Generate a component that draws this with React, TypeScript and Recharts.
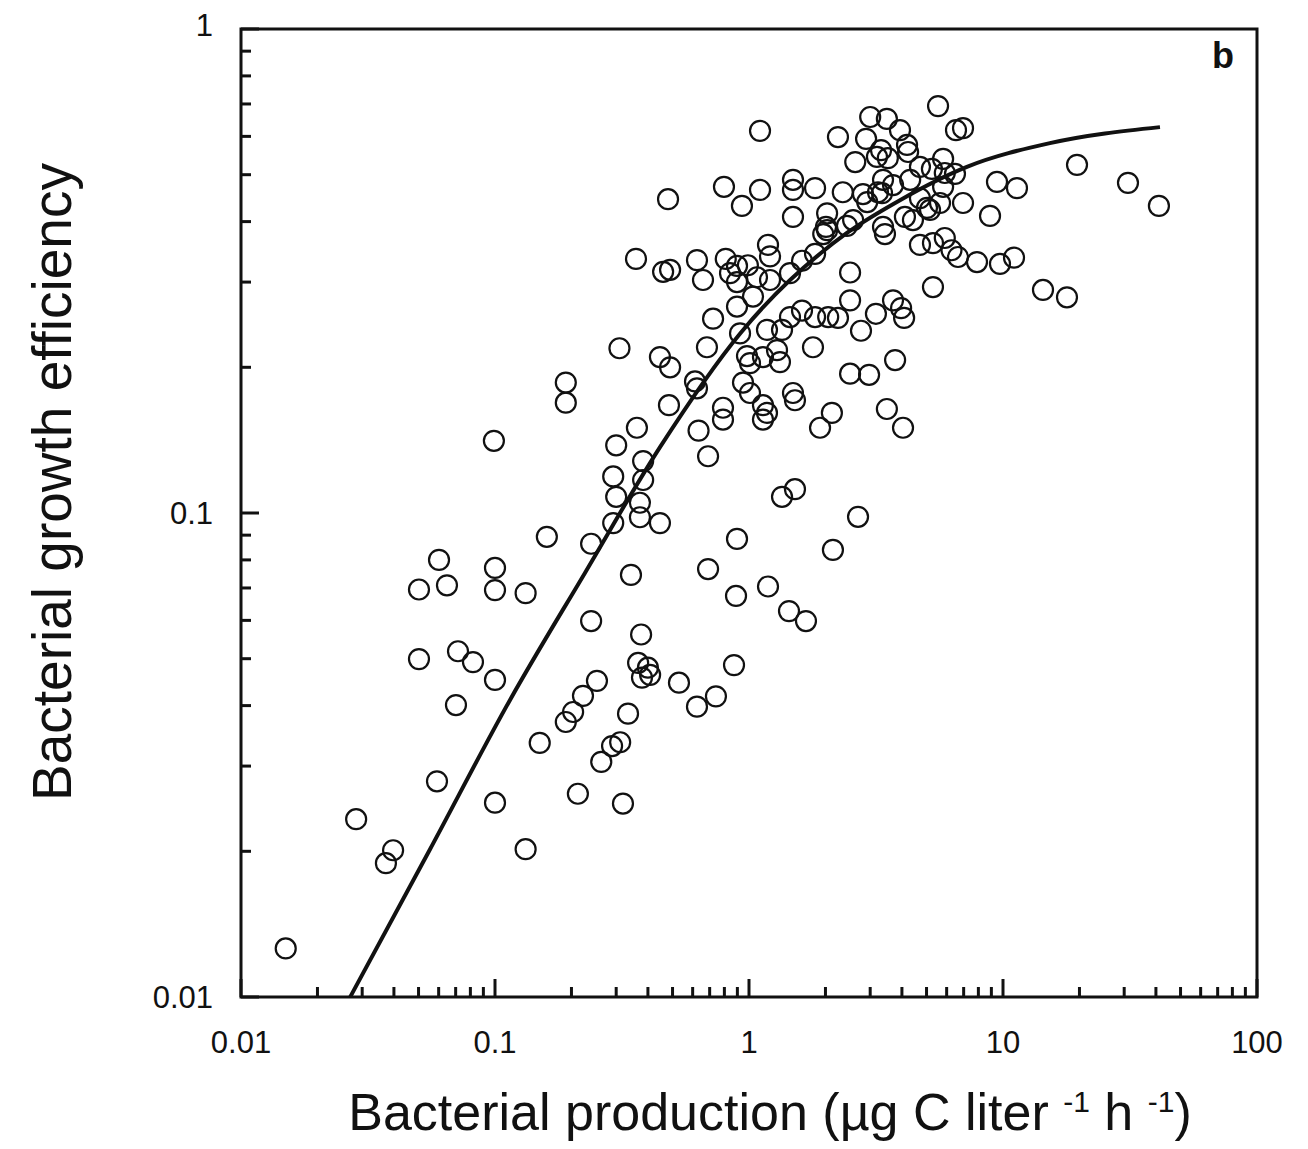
import { ComposedChart, Line, ReferenceArea, Scatter, XAxis, YAxis } from 'recharts';

// measured points: bacterial production (ug C l-1 h-1) and growth efficiency
const productionValues = [
  0.015, 0.0284, 0.0397, 0.0372, 0.0502, 0.0602, 0.0647, 0.0502, 0.0715, 0.0819,
  0.0702, 0.0591, 0.099, 0.1, 0.1, 0.1, 0.1, 0.132, 0.132, 0.16,
  0.15, 0.19, 0.19, 0.362, 0.3, 0.383, 0.383, 0.292, 0.3, 0.372,
  0.372, 0.292, 0.239, 0.446, 0.343, 0.239, 0.376, 0.366, 0.4, 0.379,
  0.408, 0.252, 0.222, 0.203, 0.19, 0.334, 0.311, 0.289, 0.262, 0.212,
  0.319, 0.53, 0.624, 0.741, 0.873, 0.69, 0.889, 1.188, 1.437, 1.676,
  2.14, 0.897, 1.349, 1.517, 2.687, 5.55, 1.105, 6.53, 6.96, 2.24,
  3.0, 3.49, 3.93, 4.19, 4.23, 2.89, 3.31, 2.62, 3.52, 5.81,
  5.25, 6.47, 9.47, 11.35, 19.56, 31.05, 41.1, 8.89, 6.96, 5.65,
  5.02, 4.71, 4.42, 4.11, 5.9, 5.3, 4.71, 6.27, 6.65, 7.9,
  9.73, 11.05, 14.37, 17.86, 3.37, 3.34, 2.81, 2.34, 3.37, 3.43,
  2.57, 2.43, 2.03, 2.01, 1.96, 1.82, 1.49, 1.49, 1.49, 1.105,
  0.938, 0.797, 0.48, 1.188, 1.21, 4.31, 3.69, 3.22, 2.92, 3.19,
  4.71, 5.9, 5.81, 5.16, 0.359, 0.459, 0.489, 0.624, 0.659, 0.81,
  0.897, 0.99, 0.897, 1.075, 1.21, 0.842, 1.037, 0.897, 1.45, 1.617,
  1.82, 2.03, 2.5, 2.5, 0.722, 0.922, 1.177, 1.45, 1.617, 1.82,
  2.05, 2.24, 0.683, 0.309, 0.446, 0.489, 1.009, 1.289, 1.324, 1.786,
  1.349, 0.613, 0.947, 1.009, 0.484, 0.79, 0.79, 1.135, 1.177, 1.135,
  1.49, 1.517, 2.5, 2.97, 3.76, 3.49, 2.12, 1.904, 4.04, 0.633,
  0.69, 3.69, 3.97, 4.08, 3.16, 2.76, 5.3, 0.982, 1.135, 0.624,
];

const efficiencyValues = [
  0.0126, 0.0233, 0.0201, 0.0189, 0.0695, 0.08, 0.0709, 0.0499, 0.0518, 0.0492,
  0.0401, 0.0279, 0.141, 0.077, 0.0693, 0.0452, 0.0252, 0.0683, 0.0202, 0.0893,
  0.0335, 0.186, 0.169, 0.15, 0.138, 0.128, 0.117, 0.119, 0.108, 0.105,
  0.098, 0.0953, 0.0864, 0.0953, 0.0745, 0.0598, 0.0561, 0.049, 0.0479, 0.0457,
  0.0463, 0.045, 0.0419, 0.0388, 0.037, 0.0385, 0.0336, 0.033, 0.0306, 0.0263,
  0.0251, 0.0446, 0.0398, 0.0418, 0.0485, 0.0766, 0.0674, 0.0705, 0.0627, 0.0598,
  0.0839, 0.0884, 0.108, 0.112, 0.0982, 0.693, 0.616, 0.618, 0.624, 0.598,
  0.658, 0.652, 0.618, 0.576, 0.557, 0.593, 0.562, 0.531, 0.541, 0.539,
  0.514, 0.502, 0.483, 0.469, 0.524, 0.481, 0.431, 0.411, 0.437, 0.437,
  0.427, 0.447, 0.403, 0.409, 0.37, 0.361, 0.358, 0.349, 0.338, 0.33,
  0.327, 0.337, 0.289, 0.279, 0.488, 0.458, 0.456, 0.46, 0.39, 0.377,
  0.403, 0.392, 0.416, 0.39, 0.377, 0.469, 0.488, 0.465, 0.409, 0.465,
  0.431, 0.472, 0.445, 0.358, 0.339, 0.488, 0.476, 0.46, 0.439, 0.544,
  0.519, 0.504, 0.472, 0.423, 0.335, 0.315, 0.318, 0.333, 0.303, 0.335,
  0.324, 0.325, 0.3, 0.307, 0.303, 0.313, 0.28, 0.267, 0.313, 0.332,
  0.343, 0.384, 0.314, 0.275, 0.252, 0.235, 0.239, 0.254, 0.262, 0.254,
  0.254, 0.253, 0.22, 0.219, 0.21, 0.2, 0.204, 0.217, 0.205, 0.22,
  0.239, 0.187, 0.186, 0.177, 0.167, 0.165, 0.156, 0.167, 0.161, 0.156,
  0.177, 0.171, 0.194, 0.193, 0.207, 0.164, 0.161, 0.15, 0.15, 0.148,
  0.131, 0.275, 0.265, 0.253, 0.258, 0.238, 0.293, 0.211, 0.21, 0.181,
];

// fitted curve
const curveProduction = [0.0269, 0.0555, 0.1146, 0.226, 0.447, 0.923, 2.43, 3.93, 7.21, 15.3, 41.5];
const curveEfficiency = [0.01, 0.0202, 0.0411, 0.0752, 0.137, 0.235, 0.379, 0.443, 0.519, 0.581, 0.627];

const xTicks = [
  0.01, 0.02, 0.03, 0.04, 0.05, 0.06, 0.07, 0.08, 0.09,
  0.1, 0.2, 0.3, 0.4, 0.5, 0.6, 0.7, 0.8, 0.9,
  1, 2, 3, 4, 5, 6, 7, 8, 9,
  10, 20, 30, 40, 50, 60, 70, 80, 90, 100,
];
const yTicks = [
  0.01, 0.02, 0.03, 0.04, 0.05, 0.06, 0.07, 0.08, 0.09,
  0.1, 0.2, 0.3, 0.4, 0.5, 0.6, 0.7, 0.8, 0.9, 1,
];
const majorTicks = [0.01, 0.1, 1, 10, 100];

const points = productionValues.map((bp, i) => ({ bp, bge: efficiencyValues[i] }));
const curve = curveProduction.map((bp, i) => ({ bp, bge: curveEfficiency[i] }));

const font = '"Liberation Sans", Arial, Helvetica, sans-serif';
const ink = '#111';

function XTick(props: any) {
  const { x, y, payload } = props;
  const major = majorTicks.includes(payload.value);
  return (
    <g>
      <line x1={x} x2={x} y1={y} y2={y - (major ? 18 : 10)} stroke={ink} strokeWidth={3} />
      {major && (
        <text x={x} y={y + 56} textAnchor="middle" fontFamily={font} fontSize={31} fill={ink}>
          {String(payload.value)}
        </text>
      )}
    </g>
  );
}

function YTick(props: any) {
  const { x, y, payload } = props;
  const major = majorTicks.includes(payload.value);
  return (
    <g>
      <line x1={x} x2={x + (major ? 18 : 10)} y1={y} y2={y} stroke={ink} strokeWidth={3} />
      {major && (
        <text x={x - 28} y={y + (payload.value === 1 ? 7 : 11)} textAnchor="end" fontFamily={font} fontSize={31} fill={ink}>
          {String(payload.value)}
        </text>
      )}
    </g>
  );
}

function RingDot(props: any) {
  const { cx, cy } = props;
  if (cx == null || cy == null) return null;
  return <circle cx={cx} cy={cy} r={10} fill="none" stroke={ink} strokeWidth={2.2} />;
}

export default function App() {
  return (
    <div style={{ position: 'absolute', left: 0, top: 0, width: 1308, height: 1149, background: '#fff' }}>
      <ComposedChart width={1308} height={1149} data={curve} margin={{ top: 29, right: 51, bottom: 122, left: 181 }}>
        <XAxis
          dataKey="bp"
          type="number"
          scale="log"
          domain={[0.01, 100]}
          allowDataOverflow
          ticks={xTicks}
          interval={0}
          height={30}
          axisLine={false}
          tickLine={false}
          tickSize={0}
          tickMargin={0}
          tick={<XTick />}
        />
        <YAxis
          dataKey="bge"
          type="number"
          scale="log"
          domain={[0.01, 1]}
          allowDataOverflow
          ticks={yTicks}
          interval={0}
          width={60}
          axisLine={false}
          tickLine={false}
          tickSize={0}
          tickMargin={0}
          tick={<YTick />}
        />
        <Scatter data={points} dataKey="bge" shape={<RingDot />} isAnimationActive={false} />
        <Line dataKey="bge" type="monotone" stroke={ink} strokeWidth={4} dot={false} activeDot={false} isAnimationActive={false} />
        <ReferenceArea x1={0.01} x2={100} y1={0.01} y2={1} fill="none" stroke={ink} strokeWidth={3} ifOverflow="visible" />
      </ComposedChart>

      <div
        style={{
          position: 'absolute',
          left: 1223,
          top: 56,
          transform: 'translate(-50%, -50%)',
          fontFamily: font,
          fontWeight: 'bold',
          fontSize: 36,
          color: ink,
        }}
      >
        b
      </div>
      <div
        style={{
          position: 'absolute',
          left: 770,
          top: 1112,
          transform: 'translate(-50%, -50%)',
          whiteSpace: 'nowrap',
          fontFamily: font,
          fontSize: 52,
          color: ink,
        }}
      >
        Bacterial production (µg C liter <sup style={{ fontSize: 30 }}>-1</sup> h <sup style={{ fontSize: 30 }}>-1</sup>)
      </div>
      <div
        style={{
          position: 'absolute',
          left: 52,
          top: 482,
          transform: 'translate(-50%, -50%) rotate(-90deg)',
          whiteSpace: 'nowrap',
          fontFamily: font,
          fontSize: 55,
          color: ink,
        }}
      >
        Bacterial growth efficiency
      </div>
    </div>
  );
}
